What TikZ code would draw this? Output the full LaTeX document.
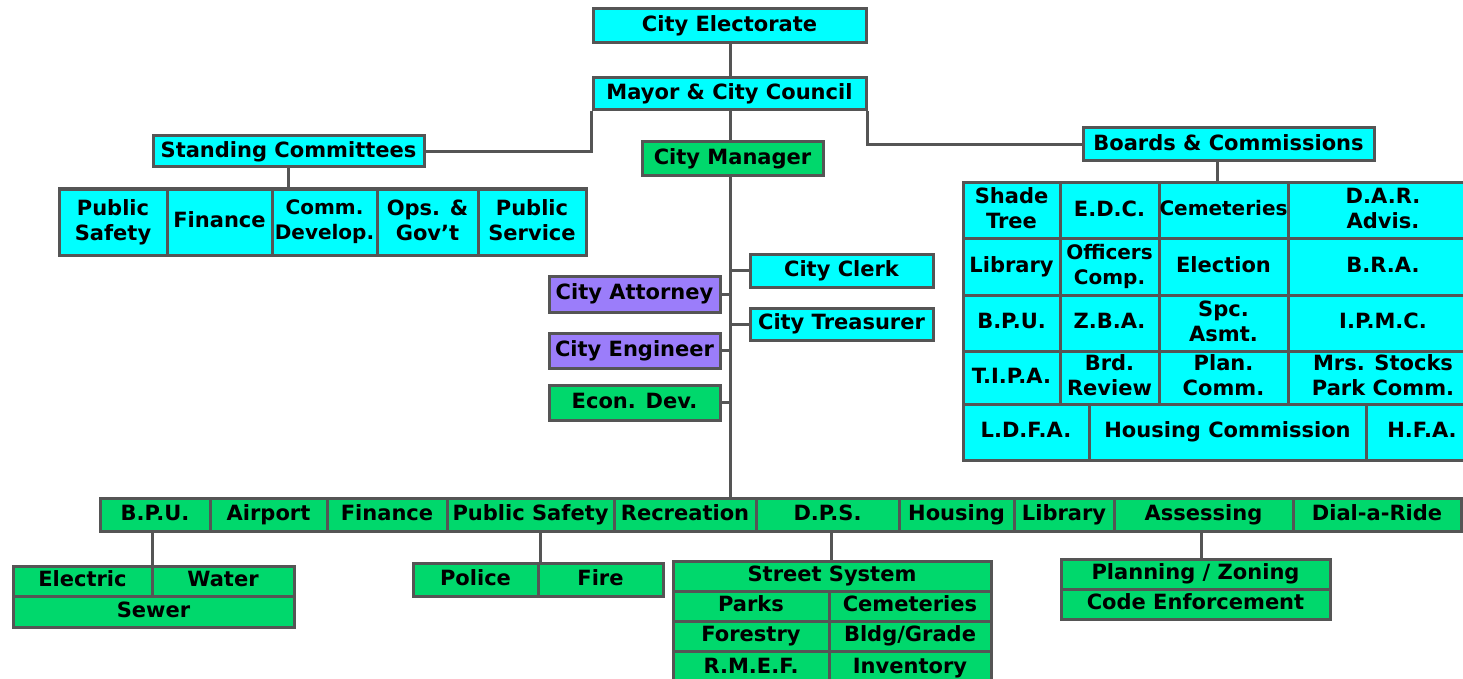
\documentclass[tikz,border=0pt]{standalone}
\usepackage{fontspec}
\setmainfont{DejaVu Sans}
\definecolor{lc}{RGB}{85,85,85}
\definecolor{cy}{RGB}{0,255,255}
\definecolor{gr}{RGB}{0,216,108}
\definecolor{pu}{RGB}{155,125,250}
\tikzset{
  bx/.style={draw=lc, line width=3pt, inner sep=0pt, align=center,
    font=\fontsize{21}{25}\selectfont\bfseries,
    execute at begin node={\vphantom{Agl}},
    execute at end node={\vphantom{Agl}}},
  sm/.style={font=\fontsize{20}{25}\selectfont\bfseries},
  ln/.style={draw=lc, line width=3pt}
}
\newcommand\bxn[8][]{%
  \pgfmathsetmacro\bxW{#6-#4}\pgfmathsetmacro\bxH{#7-#5}%
  \pgfmathsetmacro\bxX{(#4+#6)/2}\pgfmathsetmacro\bxY{(#5+#7)/2}%
  \node[bx,#1,fill=#3,minimum width=\bxW pt,minimum height=\bxH pt] (#2) at (\bxX,\bxY) {#8};}
\begin{document}
\begin{tikzpicture}[x=1pt,y=-1pt]
\useasboundingbox (0,0) rectangle (1463,679);
% top
\bxn{elect}{cy}{593}{9}{866}{43}{City Electorate}
\bxn{mayor}{cy}{593}{78}{866}{110}{Mayor \& City Council}
\bxn{mgr}{gr}{642}{142}{823}{176}{City Manager}
\bxn{stand}{cy}{153}{136}{424}{167}{Standing Committees}
\bxn{boards}{cy}{1083}{128}{1374}{161}{Boards \& Commissions}
% standing subs
\bxn{sc1}{cy}{59}{189}{167}{255}{Public\\Safety}
\bxn{sc2}{cy}{167}{189}{272}{255}{Finance}
\bxn[sm]{sc3}{cy}{272}{189}{377}{255}{Comm.\\Develop.}
\bxn{sc4}{cy}{377}{189}{478}{255}{Ops. \&\\Gov't}
\bxn{sc5}{cy}{478}{189}{586}{255}{Public\\Service}
% side boxes
\bxn{clerk}{cy}{750}{254}{933}{287}{City Clerk}
\bxn{treas}{cy}{750}{308}{933}{340}{City Treasurer}
\bxn{atty}{pu}{549}{276}{720}{312}{City Attorney}
\bxn{eng}{pu}{549}{333}{720}{368}{City Engineer}
\bxn{econ}{gr}{549}{385}{720}{420}{Econ. Dev.}
% boards grid
\bxn{g11}{cy}{963}{183}{1060}{238}{Shade\\Tree}
\bxn{g12}{cy}{1060}{183}{1159}{238}{E.D.C.}
\bxn[sm]{g13}{cy}{1159}{183}{1288}{238}{Cemeteries}
\bxn{g14}{cy}{1288}{183}{1478}{238}{D.A.R.\\Advis.}
\bxn{g21}{cy}{963}{238}{1060}{295}{Library}
\bxn[sm]{g22}{cy}{1060}{238}{1159}{295}{Officers\\Comp.}
\bxn{g23}{cy}{1159}{238}{1288}{295}{Election}
\bxn{g24}{cy}{1288}{238}{1478}{295}{B.R.A.}
\bxn{g31}{cy}{963}{295}{1060}{351}{B.P.U.}
\bxn{g32}{cy}{1060}{295}{1159}{351}{Z.B.A.}
\bxn{g33}{cy}{1159}{295}{1288}{351}{Spc.\\Asmt.}
\bxn{g34}{cy}{1288}{295}{1478}{351}{I.P.M.C.}
\bxn{g41}{cy}{963}{351}{1060}{404}{T.I.P.A.}
\bxn{g42}{cy}{1060}{351}{1159}{404}{Brd.\\Review}
\bxn{g43}{cy}{1159}{351}{1288}{404}{Plan.\\Comm.}
\bxn{g44}{cy}{1288}{351}{1478}{404}{Mrs. Stocks\\Park Comm.}
\bxn{g51}{cy}{963}{404}{1089}{460}{L.D.F.A.}
\bxn{g52}{cy}{1089}{404}{1366}{460}{Housing Commission}
\bxn{g53}{cy}{1366}{404}{1478}{460}{H.F.A.}
% bottom row
\bxn{d1}{gr}{100}{498}{210}{531}{B.P.U.}
\bxn{d2}{gr}{210}{498}{327}{531}{Airport}
\bxn{d3}{gr}{327}{498}{447}{531}{Finance}
\bxn{d4}{gr}{447}{498}{614}{531}{Public Safety}
\bxn{d5}{gr}{614}{498}{756}{531}{Recreation}
\bxn{d6}{gr}{756}{498}{899}{531}{D.P.S.}
\bxn{d7}{gr}{899}{498}{1014}{531}{Housing}
\bxn{d8}{gr}{1014}{498}{1114}{531}{Library}
\bxn{d9}{gr}{1114}{498}{1293}{531}{Assessing}
\bxn{d10}{gr}{1293}{498}{1461}{531}{Dial-a-Ride}
% sub blocks
\bxn{elec}{gr}{13}{566}{152}{596}{Electric}
\bxn{water}{gr}{152}{566}{294}{596}{Water}
\bxn{sewer}{gr}{13}{596}{294}{627}{Sewer}
\bxn{police}{gr}{413}{563}{538}{596}{Police}
\bxn{fire}{gr}{538}{563}{663}{596}{Fire}
\bxn{street}{gr}{673}{561}{991}{591}{Street System}
\bxn{parks}{gr}{673}{591}{829}{621}{Parks}
\bxn{cem}{gr}{829}{591}{991}{621}{Cemeteries}
\bxn{forest}{gr}{673}{621}{829}{651}{Forestry}
\bxn{bldg}{gr}{829}{621}{991}{651}{Bldg/Grade}
\bxn{rmef}{gr}{673}{651}{829}{685}{R.M.E.F.}
\bxn{inv}{gr}{829}{651}{991}{685}{Inventory}
\bxn{plan}{gr}{1061}{559}{1330}{589}{Planning / Zoning}
\bxn{code}{gr}{1061}{589}{1330}{619}{Code Enforcement}
% coordinates
\coordinate (spine) at (730,300);
\coordinate (bc) at (1217,170);
% connectors
\draw[ln] (elect.south -| spine) -- (mayor.north -| spine);
\draw[ln] (mayor.south -| spine) -- (mgr.north -| spine);
\draw[ln] (mgr.south -| spine) -- (d5.north -| spine);
\draw[ln] (mayor.south west) |- (stand.east);
\draw[ln] (mayor.south east) |- (boards.west);
\draw[ln] (stand.south) -- (stand.south |- sc3.north);
\draw[ln] (boards.south -| bc) -- (g13.north -| bc);
\draw[ln] (clerk.west) -- (clerk.west -| spine);
\draw[ln] (treas.west) -- (treas.west -| spine);
\draw[ln] (atty.east) -- (atty.east -| spine);
\draw[ln] (eng.east) -- (eng.east -| spine);
\draw[ln] (econ.east) -- (econ.east -| spine);
\draw[ln] (d1.south -| elec.north east) ++(-1,0) coordinate (c1) -- (c1 |- elec.north);
\draw[ln] (d4.south -| police.north east) ++(1,0) coordinate (c2) -- (c2 |- police.north);
\draw[ln] (d6.south -| parks.north east) ++(1,0) coordinate (c3) -- (c3 |- street.north);
\draw[ln] (d9.south) ++(-2,0) coordinate (c4) -- (c4 |- plan.north);
\end{tikzpicture}
\end{document}
